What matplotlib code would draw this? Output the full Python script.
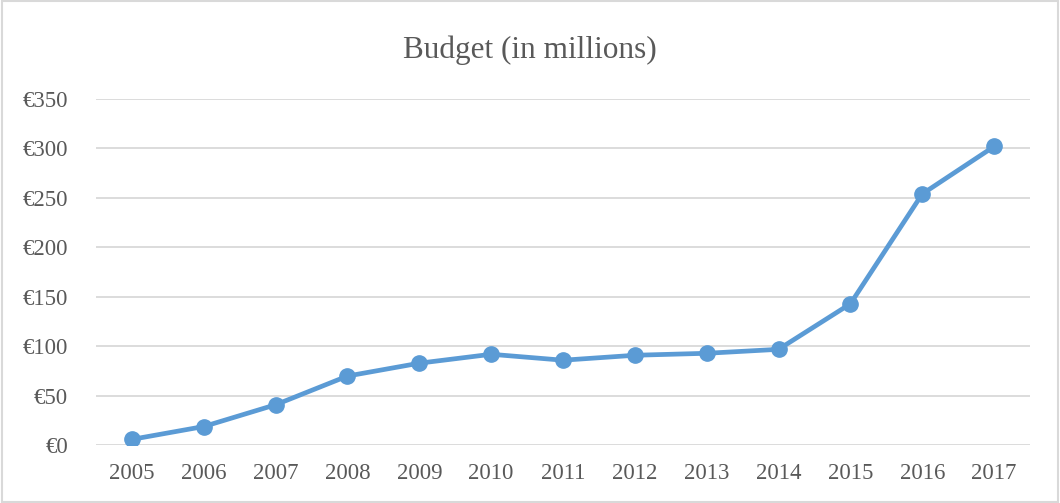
import matplotlib.pyplot as plt
from matplotlib.patches import Rectangle

# ==========================================
# DATA
# ==========================================

years  = ["2005", "2006", "2007", "2008", "2009", "2010", "2011",
          "2012", "2013", "2014", "2015", "2016", "2017"]
budget = [6, 19, 41, 70, 83, 92, 86, 91, 93, 97, 143, 254, 302]
yticks = [0, 50, 100, 150, 200, 250, 300, 350]

LINE_COLOR = "#5B9BD5"
GRID_COLOR = "#D9D9D9"
TEXT_COLOR = "#595959"

plt.rcParams["font.family"] = ["Liberation Serif", "DejaVu Serif"]

# ==========================================
# PLOT
# ==========================================

fig = plt.figure(figsize=(10.6, 5.03), dpi=100)
ax = fig.add_axes([0.0906, 0.1147, 0.8811, 0.6885])

x = list(range(len(years)))
ax.plot(x, budget, color=LINE_COLOR, linewidth=3.4, marker="o",
        markersize=11, solid_capstyle="round", zorder=3)

ax.set_xlim(-0.5, len(years) - 0.5)
ax.set_ylim(0, 350)
ax.set_xticks(x)
ax.set_xticklabels(years)
ax.set_yticks(yticks)
ax.set_yticklabels([f"€{v}" for v in yticks])

ax.grid(axis="y", color=GRID_COLOR, linewidth=1.3)
ax.set_axisbelow(True)
for s in ax.spines.values():
    s.set_visible(False)
ax.tick_params(axis="both", length=0, labelsize=16.5, labelcolor=TEXT_COLOR)
ax.tick_params(axis="y", pad=20)
ax.tick_params(axis="x", pad=13)

fig.suptitle("Budget (in millions)", y=0.93, fontsize=22.5, color=TEXT_COLOR)

fig.patches.append(Rectangle((0.002, 0.002), 0.996, 0.996, transform=fig.transFigure,
                             fill=False, edgecolor=GRID_COLOR, linewidth=1.5))

fig.savefig("out.png", dpi=100, facecolor="white")
plt.close(fig)
